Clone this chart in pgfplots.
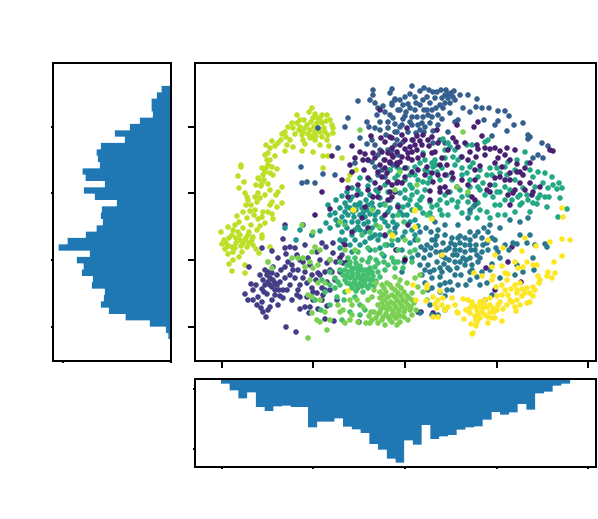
\documentclass[border=0pt]{standalone}
\usepackage{pgfplots}
\pgfplotsset{compat=1.18}
\definecolor{cLime}{HTML}{BDDF26}
\definecolor{cIndigo}{HTML}{433E85}
\definecolor{cBlue}{HTML}{35608D}
\definecolor{cTealG}{HTML}{22A884}
\definecolor{cTeal5}{HTML}{1F968B}
\definecolor{cPurple}{HTML}{482173}
\definecolor{cTeal}{HTML}{2A788E}
\definecolor{cGreen}{HTML}{44BF70}
\definecolor{cLight}{HTML}{7AD151}
\definecolor{cYellow}{HTML}{FDE725}
\definecolor{cDark}{HTML}{440154}
\definecolor{cHist}{HTML}{1F77B4}
\pgfdeclareplotmark{dot}{%
  \pgfpathmoveto{\pgfqpoint{2.4pt}{0pt}}%
  \pgfpathlineto{\pgfqpoint{2.08pt}{1.2pt}}\pgfpathlineto{\pgfqpoint{1.2pt}{2.08pt}}%
  \pgfpathlineto{\pgfqpoint{0pt}{2.4pt}}\pgfpathlineto{\pgfqpoint{-1.2pt}{2.08pt}}%
  \pgfpathlineto{\pgfqpoint{-2.08pt}{1.2pt}}\pgfpathlineto{\pgfqpoint{-2.4pt}{0pt}}%
  \pgfpathlineto{\pgfqpoint{-2.08pt}{-1.2pt}}\pgfpathlineto{\pgfqpoint{-1.2pt}{-2.08pt}}%
  \pgfpathlineto{\pgfqpoint{0pt}{-2.4pt}}\pgfpathlineto{\pgfqpoint{1.2pt}{-2.08pt}}%
  \pgfpathlineto{\pgfqpoint{2.08pt}{-1.2pt}}\pgfpathclose
  \pgfusepathqfill}
\pgfplotsset{
  base/.style={scale only axis, axis line style={line width=1.5pt}, ticklabel style={opacity=0},
    xticklabels={}, yticklabels={}, clip=true, tick style={line width=1.2pt,black}, axis on top=true},
  dots/.style={only marks, color=#1, mark=dot, mark options={solid, fill=#1, scale=1.15}}
}
\begin{document}
\begin{tikzpicture}[x=1pt,y=1pt]
\useasboundingbox (0,0) rectangle (598,519);
% main scatter
\begin{axis}[base, at={(195pt,158pt)}, anchor=south west, width=401pt, height=298pt,
  xmin=195, xmax=596, ymin=63, ymax=361, y dir=reverse,
  xtick={222,313,405,497,588}, ytick={127,193,260,327},
  tick align=outside, major tick length=7pt, xtick pos=bottom, ytick pos=left]
\addplot[dots=cLime] coordinates {(312,108)(297,115)(315,114)(322,115)(327,115)(313,118)(311,122)(317,123)(322,123)(307,125)(332,125)(333,128)(297,123)(292,123)(288,127)(293,128)(282,134)(285,132)(303,132)(310,130)(315,132)(320,132)(325,132)(302,135)(312,136)(322,137)(303,140)(290,140)(315,140)(327,140)(278,143)(287,145)(275,146)(293,147)(270,148)(266,145)(285,151)(329,146)(302,151)(313,152)(268,153)(323,156)(328,156)(275,156)(342,158)(267,160)(270,160)(323,168)(262,168)(266,168)(272,167)(277,169)(270,173)(273,175)(241,165)(241,167)(238,176)(244,182)(239,188)(259,179)(262,183)(268,184)(261,186)(282,187)(278,192)(276,195)(258,193)(245,193)(247,197)(255,197)(260,198)(248,200)(257,202)(272,202)(270,205)(282,203)(277,207)(250,211)(255,210)(263,212)(268,212)(254,215)(262,217)(273,219)(258,219)(239,222)(228,227)(221,232)(233,230)(243,228)(257,230)(240,235)(248,235)(253,237)(262,235)(232,235)(226,243)(232,247)(240,240)(245,240)(252,240)(247,247)(253,245)(262,238)(235,248)(225,249)(242,252)(259,253)(270,247)(233,260)(239,257)(229,264)(232,271)(245,265)(245,273)(268,262)(318,118)(305,128)(300,127)(318,128)(316,136)(308,134)(265,155)(264,180)(263,175)(246,238)(243,243)(236,238)(228,246)(249,232)(350,175)(348,180)(356,170)
(300,120)(304,120)(309,112)(320,119)(326,121)(330,120)(314,127)(310,138)(299,130)(295,134)(286,137)(281,140)(272,141)(305,144)(320,145)(324,128)(328,135)(333,133)(268,165)(265,172)(256,185)(258,178)(270,190)(265,195)(251,205)(246,205)(243,212)(237,216)(235,225)(238,232)(229,238)(224,240)(236,243)(233,252)(249,243)(256,249)(251,225)(247,218)(260,226)(265,223)(272,214)(241,246)(228,254)(222,244)};
\addplot[dots=cIndigo] coordinates {(245,294)(251,284)(253,290)(262,289)(265,270)(267,275)(270,278)(273,280)(268,282)(277,285)(272,287)(267,294)(275,295)(280,296)(258,297)(262,302)(257,305)(270,307)(278,305)(261,308)(266,317)(283,298)(286,327)(296,332)(285,278)(290,285)(293,270)(298,270)(292,265)(285,267)(278,258)(273,267)(272,251)(286,254)(297,255)(300,260)(308,258)(303,262)(310,265)(303,278)(307,283)(298,290)(297,295)(300,297)(305,307)(310,307)(300,309)(309,313)(318,309)(327,306)(325,319)(334,321)(359,322)(317,293)(322,288)(325,290)(313,292)(323,295)(318,273)(325,272)(330,270)(332,272)(327,282)(290,247)(285,248)(303,225)(285,225)(312,235)(322,243)(333,243)(343,242)(342,255)(333,253)(330,260)(343,263)(283,239)(249,267)(262,248)(270,285)(265,285)(275,290)(264,292)(283,290)(277,275)(272,273)
(260,275)(263,280)(256,285)(268,272)(280,282)(275,283)(279,290)(287,290)(281,270)(290,275)(295,278)(305,272)(312,275)(316,280)(292,300)(307,297)(313,300)(300,285)(320,260)(327,263)(336,262)(317,252)(326,247)(295,248)(305,245)(288,262)(320,275)(335,280)(312,288)(330,290)(337,300)(322,300)(340,272)(253,300)(272,300)(248,300)(263,312)(268,310)};
\addplot[dots=cBlue] coordinates {(373,90)(392,89)(373,95)(358,101)(375,103)(383,106)(392,103)(395,99)(398,110)(378,108)(388,122)(380,122)(367,122)(369,127)(348,118)(345,127)(360,138)(367,144)(338,148)(395,132)(397,140)(392,150)(355,163)(335,175)(323,174)(315,183)(307,182)(302,183)(301,167)(318,128)(412,86)(420,91)(424,88)(429,90)(446,90)(454,91)(451,93)(445,95)(442,98)(435,98)(448,98)(453,97)(460,95)(468,95)(477,99)(415,97)(423,100)(427,97)(395,100)(392,105)(403,105)(408,104)(416,103)(430,103)(450,103)(445,103)(443,108)(476,107)(482,108)(489,108)(498,111)(505,111)(509,116)(400,110)(406,112)(427,110)(432,110)(450,113)(412,117)(417,117)(423,117)(432,117)(442,119)(403,119)(390,115)(422,123)(418,125)(430,123)(458,120)(455,122)(498,121)(495,125)(523,123)(420,130)(397,132)(433,131)(448,132)(492,136)(507,131)(528,135)(528,139)(530,137)(542,143)(548,146)(533,158)(538,155)(543,158)(440,140)(445,143)(390,93)(375,167)(382,170)(378,175)(372,162)(384,160)(412,125)(425,127)(408,132)(388,128)(402,125)(416,133)(433,143)(380,150)(398,155)(390,170)(455,100)(449,94)(440,105)
(370,100)(377,115)(385,112)(393,118)(400,100)(405,97)(410,108)(415,110)(420,105)(424,110)(436,108)(438,115)(437,92)(441,90)(433,92)(410,94)(400,127)(410,122)(405,116)(395,124)(380,130)(386,135)(375,128)(424,132)(428,115)(438,125)(463,108)(470,112)(484,120)(514,125)(375,145)(368,160)(378,155)(372,140)(395,145)(403,142)(412,140)(393,165)(385,177)(388,150)};
\addplot[dots=cTeal5] coordinates {(342,196)(347,192)(352,188)(358,190)(352,197)(361,194)(345,203)(350,200)(355,205)(360,203)(366,200)(372,203)(340,208)(345,212)(350,208)(356,210)(362,208)(367,210)(373,208)(335,213)(342,217)(348,215)(354,217)(360,215)(365,217)(370,214)(378,212)(336,220)(345,222)(352,222)(358,222)(364,224)(375,220)(382,218)(388,212)(393,216)(380,198)(384,204)(390,200)(376,190)(368,186)(398,205)(403,215)(355,230)(365,232)(372,228)(380,228)(388,226)(397,225)(410,222)(342,232)(330,228)(326,223)(345,240)(355,240)(365,242)(378,240)(385,236)(395,233)(403,237)(412,230)(418,226)(370,250)(380,248)(392,245)(402,250)(410,243)(352,252)(320,231)(312,235)(300,230)(296,240)(285,228)(370,195)(360,230)(375,235)(350,245)(340,248)(384,256)(394,262)(404,262)(412,258)(400,193)(408,205)(405,198)
(347,207)(353,212)(358,205)(363,213)(368,205)(375,215)(338,225)(347,228)(352,235)(358,227)(368,222)(372,237)(380,235)(385,222)(393,222)(400,212)(407,215)(415,220)(390,208)(380,205)(336,200)(330,215)(328,205)(360,245)(370,238)(387,245)(398,240)(405,232)(415,235)(340,240)};
\addplot[dots=cTealG] coordinates {(485,142)(488,140)(443,139)(448,143)(450,147)(445,150)(455,150)(467,145)(472,145)(461,157)(453,157)(458,160)(423,153)(425,160)(420,163)(415,167)(433,167)(437,172)(442,168)(447,175)(432,163)(397,167)(390,170)(400,170)(407,168)(473,163)(470,167)(462,168)(467,173)(478,177)(487,175)(497,168)(500,173)(505,167)(508,162)(517,160)(507,175)(492,175)(515,180)(525,152)(527,163)(533,177)(545,173)(552,177)(543,183)(559,183)(562,188)(557,189)(535,187)(523,188)(518,197)(527,195)(528,200)(522,203)(533,203)(537,204)(538,198)(545,197)(549,197)(560,198)(558,217)(567,209)(547,207)(505,187)(500,192)(493,197)(478,187)(480,190)(470,187)(462,197)(458,202)(468,202)(457,207)(473,207)(478,203)(487,212)(498,215)(505,215)(450,192)(428,183)(423,182)(418,180)(417,192)(422,197)(412,188)(412,195)(432,207)(430,202)(437,205)(447,203)(442,215)(412,210)(403,207)(417,205)(423,213)(432,218)(448,215)(477,218)(490,218)(436,165)(428,172)(440,180)(452,180)(405,180)(395,178)(385,185)(370,180)(360,178)
(410,175)(415,175)(425,170)(430,178)(445,158)(435,160)(455,165)(462,175)(470,180)(480,170)(490,168)(495,185)(510,190)(512,200)(520,205)(505,200)(495,205)(485,195)(460,190)(452,200)(445,195)(440,200)(425,190)(405,190)(398,175)(410,200)(420,208)(430,213)(440,210)(462,213)(470,213)(480,210)(500,205)(515,212)(530,212)(540,195)(548,188)(553,185)(530,170)(538,172)(515,170)(378,192)(388,192)(410,185)(420,200)(468,195)(483,183)(497,192)(520,195)};
\addplot[dots=cPurple] coordinates {(478,122)(474,127)(457,125)(407,128)(437,130)(482,136)(392,138)(402,135)(405,140)(417,136)(423,135)(432,137)(453,138)(465,143)(477,145)(478,149)(415,145)(422,145)(429,146)(405,149)(410,147)(397,152)(392,155)(402,157)(408,153)(417,150)(423,155)(432,153)(442,158)(435,152)(458,147)(462,157)(490,149)(495,148)(500,151)(507,148)(485,155)(550,150)(553,151)(530,163)(517,164)(510,160)(495,163)(480,166)(475,170)(502,167)(510,173)(517,172)(523,175)(495,178)(500,177)(510,180)(520,183)(530,183)(540,187)(533,192)(532,195)(508,195)(513,193)(490,192)(487,190)(390,163)(397,165)(405,177)(397,183)(402,183)(427,167)(432,173)(447,165)(452,173)(453,178)(457,187)(440,188)(445,187)(430,191)(440,192)(448,192)(472,197)(475,200)(430,200)(395,192)(392,197)(380,110)(371,136)(390,137)(381,138)(385,142)(352,146)(332,156)(365,154)(373,153)(382,152)(388,153)(393,157)(363,160)(385,160)(390,162)(397,163)(364,170)(378,172)(387,173)(368,178)(382,177)(352,172)(348,188)(322,192)(315,215)(330,209)(373,197)(378,197)(388,182)(398,182)(390,192)(348,197)(357,195)(365,207)(362,218)(368,228)(345,245)(352,232)(340,258)(347,262)(392,185)(388,200)(398,207)(385,235)(408,225)(396,250)(385,215)(521,282)(495,290)(418,312)(421,312)(433,313)(486,268)(508,262)(512,247)
(360,152)(368,160)(375,158)(380,165)(392,148)(400,145)(413,140)(420,141)(428,140)(438,143)(448,150)(456,142)(470,152)(485,148)(476,157)(468,160)(412,160)(418,158)(400,162)(405,168)(412,172)(418,170)(425,175)(440,165)(445,175)(433,182)(438,175)(462,180)(468,185)(475,180)(490,185)(505,180)(515,190)(525,190)(510,205)(520,172)(498,158)(505,155)(515,150)(525,168)(412,152)(408,158)(385,168)(375,183)(368,190)(380,188)(358,185)(355,158)(350,165)(342,180)};
\addplot[dots=cTeal] coordinates {(427,245)(432,240)(437,236)(431,248)(436,252)(442,256)(437,262)(444,264)(449,260)(453,255)(449,248)(443,243)(441,252)(455,245)(460,243)(465,245)(460,250)(465,252)(471,250)(457,255)(463,258)(470,258)(477,255)(482,252)(476,245)(470,240)(475,236)(482,238)(487,243)(492,238)(488,232)(484,228)(478,232)(470,232)(460,236)(452,238)(445,235)(438,230)(431,232)(426,228)(420,232)(415,240)(421,247)(418,255)(424,258)(428,265)(434,270)(442,272)(450,270)(440,277)(432,278)(457,268)(465,265)(472,265)(478,262)(461,275)(450,282)(466,285)(458,285)(447,290)(440,285)(425,283)(432,288)(428,290)(445,296)(452,290)(470,280)(482,272)(492,264)(500,258)(509,250)(513,243)(520,235)(530,235)(495,240)(505,245)(517,244)(527,243)(545,244)(547,247)(480,285)(485,300)(492,295)(487,283)(477,277)(500,278)(517,265)(515,275)(523,272)(533,258)(534,270)(535,245)(402,272)(445,310)(432,315)(438,315)(420,313)(430,305)(395,228)(470,210)(475,205)(490,225)(500,228)(510,220)(520,222)(528,218)(468,218)(458,225)(445,225)(435,222)
(435,240)(430,255)(446,250)(455,250)(451,243)(445,258)(436,245)(458,238)(465,238)(470,245)(475,250)(483,245)(466,260)(472,270)(455,262)(460,262)(448,268)(440,268)(425,250)(420,265)(430,272)(422,275)(480,258)(488,250)(496,248)(498,252)(470,272)(455,275)(445,283)(440,292)(425,270)(490,270)};
\addplot[dots=cGreen] coordinates {(345,270)(350,266)(355,268)(360,266)(365,270)(370,268)(375,267)(343,275)(348,272)(353,274)(358,272)(363,275)(368,274)(373,276)(378,272)(385,270)(345,280)(350,278)(355,280)(360,278)(365,281)(370,280)(376,281)(350,284)(356,285)(362,286)(368,288)(374,286)(356,291)(363,292)(340,262)(348,258)(355,258)(362,260)(370,258)(376,260)(384,262)(392,258)(398,262)(403,268)(340,285)(335,278)(330,272)(322,280)(344,300)(355,297)(360,305)(350,312)(342,320)(330,305)(325,292)(315,300)(321,310)(337,297)(335,288)(345,292)(360,315)(365,310)(385,205)(398,215)(376,225)(410,252)(392,240)(404,222)(418,240)(427,215)(362,235)(345,225)(395,262)(382,254)
(347,265)(352,270)(358,268)(362,270)(368,270)(372,272)(347,276)(352,276)(358,276)(363,280)(367,277)(372,280)(347,283)(354,283)(360,283)(365,285)(370,285)(352,288)(358,288)(380,277)(388,265)(395,268)(405,258)(412,262)(340,270)(338,282)(330,285)(378,263)(368,262)(356,263)(350,262)(375,250)(368,248)(358,252)(385,245)(398,250)(415,250)(390,232)(370,232)};
\addplot[dots=cLight] coordinates {(382,285)(387,283)(392,288)(398,285)(380,292)(386,292)(392,295)(398,293)(404,292)(380,298)(385,300)(391,302)(397,300)(403,300)(409,298)(378,305)(384,307)(390,308)(396,307)(402,306)(408,305)(414,303)(380,312)(386,314)(392,315)(398,313)(404,312)(410,310)(416,310)(376,318)(382,320)(390,320)(396,318)(404,317)(408,320)(370,323)(378,323)(385,325)(392,322)(400,322)(345,323)(350,300)(374,290)(376,283)(395,277)(400,280)(407,283)(415,278)(420,275)(418,287)(423,292)(427,300)(412,293)(371,312)(366,323)(363,307)(357,300)(350,320)(330,320)(327,330)(308,338)(320,322)(312,313)(325,312)(317,320)(338,305)(343,310)(352,315)(302,225)(313,232)(315,247)(320,250)(312,252)(303,258)(298,258)(318,265)(310,262)(305,267)(313,268)(292,258)(268,262)(272,268)(310,280)(318,283)(325,283)(312,297)(308,295)(320,300)(340,222)(330,260)(345,250)(355,250)(380,227)(372,210)(395,190)(400,172)(463,132)(360,130)(417,185)(457,187)(468,192)(405,240)
(384,288)(390,285)(395,290)(401,288)(383,295)(388,297)(395,297)(401,296)(407,296)(382,303)(388,304)(394,304)(400,303)(406,302)(412,300)(381,309)(387,310)(393,311)(399,310)(405,309)(411,307)(383,317)(388,317)(394,316)(400,316)(412,315)(378,314)(374,312)(372,320)(369,316)(397,325)(352,305)(358,322)(340,312)(368,300)(372,297)};
\addplot[dots=cYellow] coordinates {(562,239)(570,240)(550,242)(536,246)(525,238)(522,251)(503,248)(488,240)(495,255)(515,262)(527,262)(533,265)(537,265)(554,262)(562,256)(523,267)(518,268)(502,266)(492,267)(548,272)(555,273)(552,278)(547,276)(538,276)(505,273)(508,274)(493,276)(492,280)(474,273)(482,276)(507,280)(539,283)(533,287)(527,288)(522,289)(517,290)(511,289)(502,285)(497,296)(502,295)(508,295)(517,293)(533,296)(530,302)(527,303)(517,300)(520,305)(515,307)(516,311)(507,305)(503,309)(498,305)(493,308)(494,312)(490,298)(485,300)(480,302)(472,302)(472,305)(477,310)(483,308)(487,307)(485,315)(488,317)(470,313)(464,319)(476,320)(477,322)(488,323)(495,318)(502,321)(471,324)(476,326)(472,334)(473,333)(463,299)(457,312)(458,313)(448,307)(445,310)(452,298)(443,298)(433,297)(426,301)(435,304)(437,308)(433,317)(438,317)(440,291)(427,285)(427,288)(413,285)(416,300)(392,235)(432,219)(415,227)(442,255)(415,211)(562,208)(563,217)(393,236)(353,210)(348,291)(354,210)(415,210)
(480,306)(475,306)(484,304)(490,305)(478,314)(482,312)(490,312)(497,310)(500,302)(510,300)(512,302)(522,296)(525,293)(535,290)(540,280)(520,283)(530,293)(470,308)(466,310)(475,316)(492,318)(480,318)(468,300)(496,287)(505,290)(515,285)(455,305)(442,305)(438,300)};
\addplot[dots=cDark] coordinates {(405,260)};
\end{axis}
% left histogram
\begin{axis}[base, at={(53pt,158pt)}, anchor=south west, width=118pt, height=298pt,
  xmin=0, xmax=118, x dir=reverse, ymin=63, ymax=361, y dir=reverse,
  xtick={0,108}, ytick={127,193,260,327}, tick align=outside, major tick length=2pt, xtick pos=bottom, ytick pos=left]
\addplot[xbar interval, fill=cHist, draw=none] coordinates {(9.3,86)(14,92.3)(19.3,98.7)(19.3,105)(18,111.3)(31,117.6)(41,124)(56,130.3)(46,136.6)(70,143)(74.3,149.3)(73,155.6)(71,162)(88.3,168.3)(85.3,174.6)(66,181)(87,187.3)(76,193.6)(54,200)(69,206.3)(70,212.6)(68,219)(74.3,225.3)(85,231.6)(103.3,238)(112.3,244.3)(81,250.6)(94,257)(87.3,263.3)(89,269.6)(78,276)(79,282.3)(66,288.6)(67,295)(70,301.3)(62,307.6)(45.3,314)(21,320.3)(5,326.6)(2.7,333)(0,339)};
\end{axis}
% bottom histogram
\begin{axis}[base, at={(195pt,52pt)}, anchor=south west, width=401pt, height=88pt,
  xmin=195, xmax=596, ymin=0, ymax=88, y dir=reverse,
  xtick={222,313,405,497,588}, ytick={10,70}, tick align=outside, major tick length=2pt, xtick pos=bottom, ytick pos=left]
\addplot[ybar interval, fill=cHist, draw=none] coordinates {(221,4.7)(229.7,11.3)(238.4,19.3)(247.2,13.3)(255.9,28)(264.6,32)(273.3,27.3)(282.1,26.7)(290.8,28)(299.5,28)(308.2,48.3)(317,42.7)(325.7,42.7)(334.4,39.3)(343.1,47.7)(351.9,50.3)(360.6,54)(369.3,65)(378,70.7)(386.8,79.7)(395.5,83.7)(404.2,61.3)(412.9,65.7)(421.7,46)(430.4,60)(439.1,57.3)(447.8,56)(456.6,50.7)(465.3,48.3)(474,47.3)(482.7,40.7)(491.5,33)(500.2,35.7)(508.9,33.3)(517.6,25)(526.4,30.7)(535.1,14.3)(543.8,12.7)(552.5,6.7)(561.3,4.7)(570,0)};
\end{axis}
\end{tikzpicture}
\end{document}
